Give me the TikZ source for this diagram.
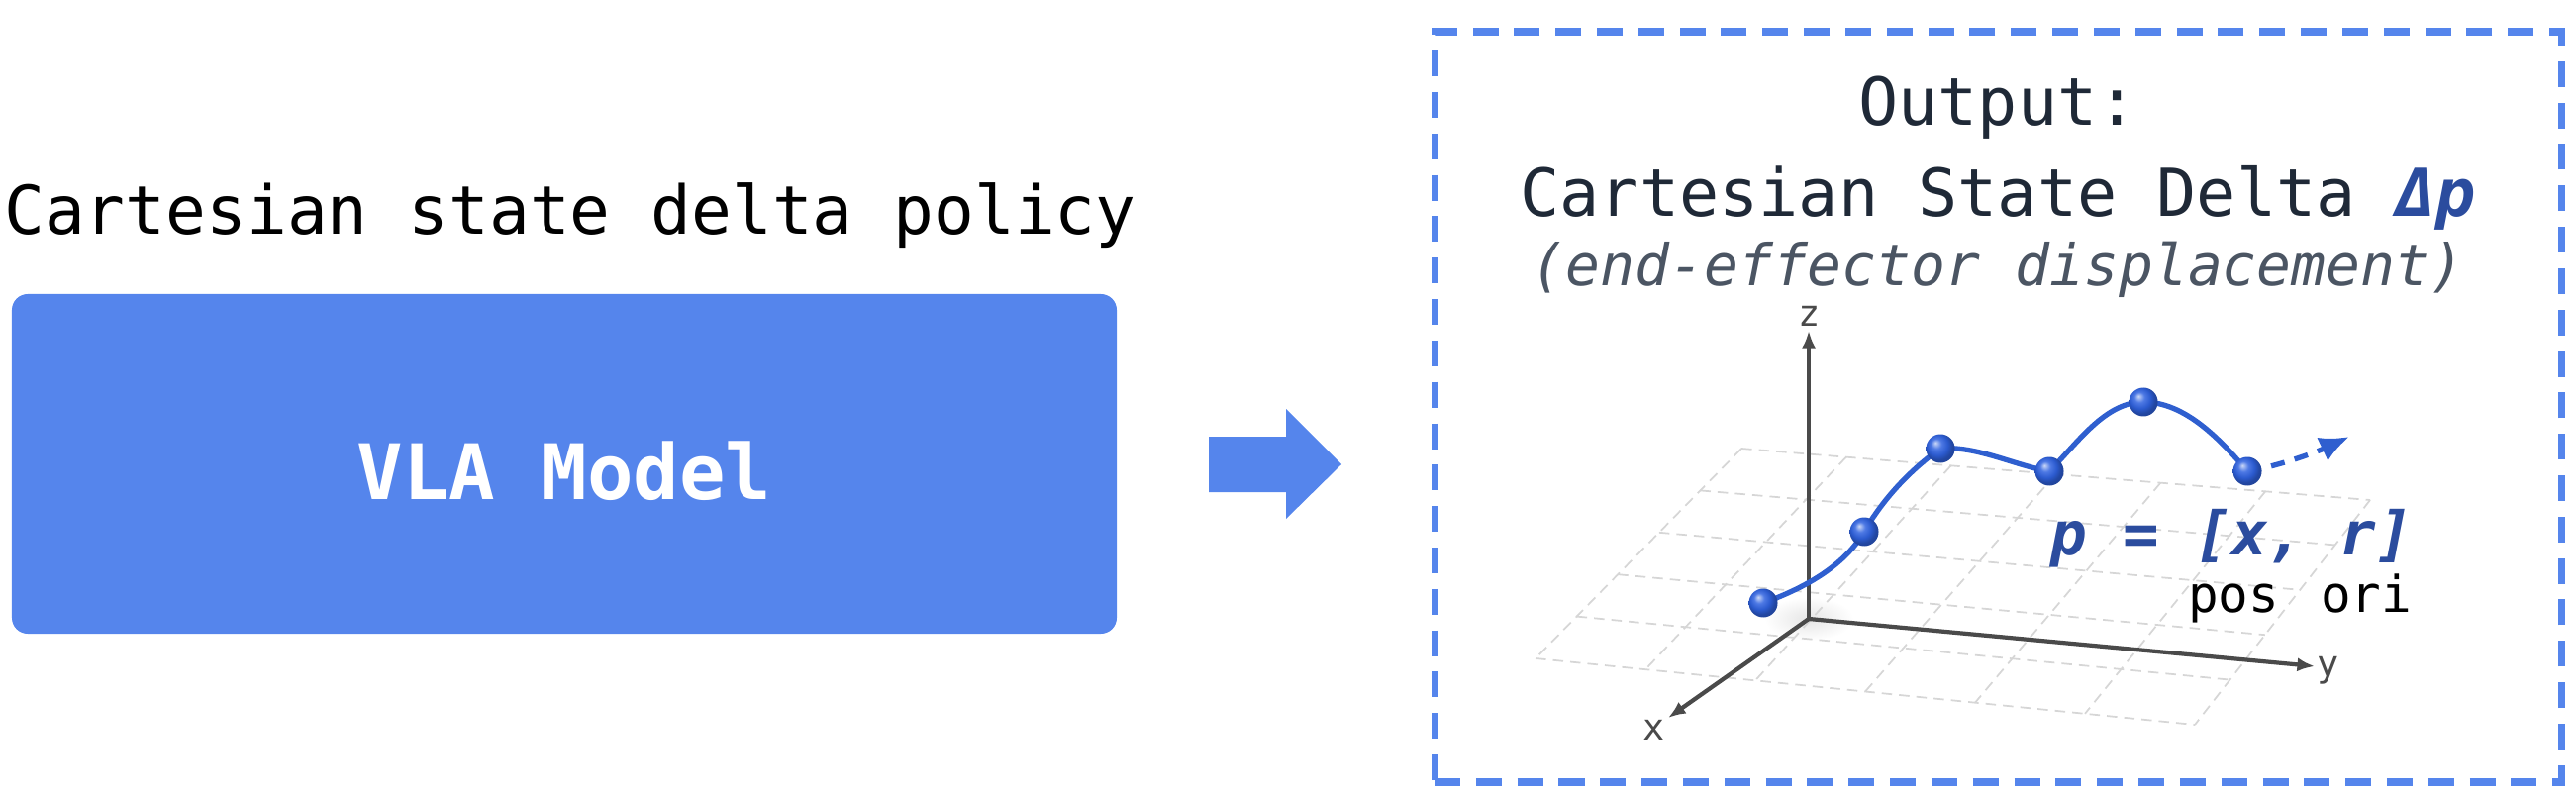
\documentclass[tikz,border=0pt]{standalone}
\usepackage{fontspec}
\setmainfont{DejaVu Sans Mono}
\usetikzlibrary{arrows.meta,positioning,calc}

\definecolor{vlablue}{HTML}{5585EC}
\definecolor{inkdark}{HTML}{1F2937}
\definecolor{inkgray}{HTML}{4B5563}
\definecolor{deltablue}{HTML}{2B4C9E}
\definecolor{trajblue}{HTML}{2F5FCF}
\definecolor{ballblue}{HTML}{2F62E0}
\definecolor{axisgray}{HTML}{4A4A4A}

\pgfdeclareradialshading{blueball}{\pgfqpoint{-9bp}{10bp}}{%
  color(0bp)=(ballblue!25!white); color(9bp)=(ballblue!85!white);
  color(18bp)=(ballblue!92!black); color(25bp)=(ballblue!72!black);
  color(50bp)=(ballblue!55!black)}

\begin{document}
\begin{tikzpicture}[>=Latex,
  vlabox/.style={fill=vlablue, rounded corners=0.16cm, text=white, inner sep=0,
    text height=0.72cm, text depth=0cm,
    minimum width=11.16cm, minimum height=3.43cm, font=\fontsize{22}{26}\selectfont\bfseries},
  outframe/.style={draw=vlablue, line width=2pt, dash pattern=on 7.4pt off 4.5pt,
    minimum width=11.38cm, minimum height=7.58cm, inner sep=0},
  gridline/.style={draw=black!16, line width=0.5pt, dash pattern=on 3pt off 2pt},
  axisline/.style={draw=axisgray, line width=1.2pt, -{Latex[length=5pt,width=4pt]}},
  axislbl/.style={text=axisgray, inner sep=0, font=\fontsize{10.5}{12}\selectfont},
  trajline/.style={draw=trajblue, line width=1.5pt},
  waypt/.style={circle, shade, shading=blueball, minimum size=0.29cm, inner sep=0}]
  \useasboundingbox (0,0) rectangle (26.02,8.08);

  % left side: policy title and model block
  \node[anchor=base west, inner sep=0, font=\fontsize{19.3}{23}\selectfont] (policy) at (0.035,5.71) {Cartesian state delta policy};
  \node[vlabox] (vla) at (5.70,3.395) {VLA Model};
  % block arrow
  \fill[vlablue] (12.21,3.11) -- (12.99,3.11) -- (12.99,2.84) -- (13.55,3.39)
    -- (12.99,3.95) -- (12.99,3.67) -- (12.21,3.67) -- cycle;

  % right side: output panel
  \node[outframe] (outbox) at (20.18,3.97) {};
  \node[anchor=base, inner sep=0, text=inkdark, font=\fontsize{19}{23}\selectfont] (outtitle) at (20.18,6.81) {Output:};
  \node[anchor=base, inner sep=0, text=inkdark, font=\fontsize{19}{23}\selectfont] (outname) at (20.18,5.89)
    {Cartesian State Delta \textcolor{deltablue}{\bfseries\itshape Δp}};
  \node[anchor=base, inner sep=0, text=inkgray, font=\fontsize{16.5}{20}\selectfont\itshape] (outnote) at (20.18,5.19)
    {(end-effector displacement)};

  % ground plane grid
  \coordinate (gTL) at (17.59,3.55);
  \coordinate (gTR) at (23.94,3.03);
  \coordinate (gBR) at (22.17,0.76);
  \coordinate (gBL) at (15.51,1.43);
  \coordinate (O) at (18.27,1.83);
  \shade[inner color=black!10, outer color=white] (O) ellipse (0.45 and 0.22);
  \foreach \i in {0,...,6}
    \draw[gridline] ($(gTL)!\i/6!(gTR)$) -- ($(gBL)!\i/6!(gBR)$);
  \foreach \j in {0,...,5}
    \draw[gridline] ($(gTL)!\j/5!(gBL)$) -- ($(gTR)!\j/5!(gBR)$);

  % axes
  \coordinate (zTip) at (18.27,4.74);
  \coordinate (yTip) at (23.38,1.35);
  \coordinate (xTip) at (16.85,0.83);
  \draw[axisline] (O) -- (zTip);
  \draw[axisline] (O) -- (yTip);
  \draw[axisline] (O) -- (xTip);
  \node[axislbl] (zlbl) at (18.28,4.89) {z};
  \node[axislbl] (ylbl) at (23.52,1.31) {y};
  \node[axislbl] (xlbl) at (16.71,0.71) {x};

  % trajectory
  \coordinate (w1) at (17.81,1.99);
  \coordinate (w2) at (18.83,2.71);
  \coordinate (w3) at (19.60,3.55);
  \coordinate (w4) at (20.70,3.32);
  \coordinate (w5) at (21.65,4.02);
  \coordinate (w6) at (22.70,3.32);
  \coordinate (wNext) at (23.73,3.67);
  \draw[trajline] (w1) .. controls (18.20,2.13) and (18.62,2.35) .. (w2)
    .. controls (19.02,3.04) and (19.29,3.33) .. (w3)
    .. controls (19.97,3.58) and (20.34,3.38) .. (w4)
    .. controls (20.98,3.60) and (21.26,4.02) .. (w5)
    .. controls (22.07,4.02) and (22.43,3.64) .. (w6);
  \draw[trajline, dash pattern=on 4pt off 3pt, -{Latex[length=8.5pt,width=7.5pt]}]
    (w6) .. controls (23.05,3.38) and (23.41,3.52) .. (wNext);
  \foreach \w in {w1,w2,w3,w4,w5,w6}
    \node[waypt] (ball-\w) at (\w) {};

  % state vector
  \node[anchor=base, inner sep=0, text=deltablue, font=\fontsize{17.3}{20}\selectfont\bfseries\itshape] (pvec) at (22.54,2.48) {p = [x, r]};
  \node[anchor=base, inner sep=0, font=\fontsize{14.5}{17}\selectfont] (poslbl) at (22.56,1.90) {pos};
  \node[anchor=base, inner sep=0, font=\fontsize{14.5}{17}\selectfont] (orilbl) at (23.90,1.90) {ori};
\end{tikzpicture}
\end{document}
